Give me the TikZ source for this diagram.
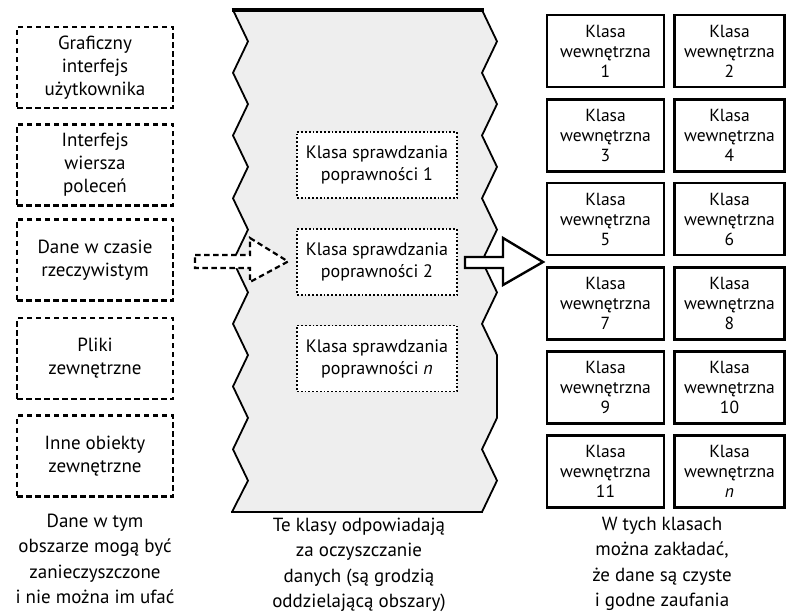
\documentclass[tikz,border=0pt]{standalone}
\usepackage{fontspec}
\setmainfont{PT Sans}
\definecolor{szary}{HTML}{EEEEEE}
% zigzag edges of the middle band
\def\lewa{(233,10) -- (248,41.4) -- (233,72.8) -- (248,104.1) -- (233,135.5) -- (248,166.9) -- (233,198.3) -- (248,229.6) -- (233,261) -- (248,292.4) -- (233,323.8) -- (248,355.1) -- (233,386.5) -- (248,417.9) -- (233,449.3) -- (248,480.6) -- (232,512)}
\def\prawa{(482,512) -- (497,480.6) -- (482,449.3) -- (497,417.9) -- (497,386.5) -- (497,355.1) -- (482,323.8) -- (497,292.4) -- (482,261) -- (497,229.6) -- (482,198.3) -- (497,166.9) -- (482,135.5) -- (497,104.1) -- (482,72.8) -- (497,41.4) -- (482,10)}

\begin{document}
\begin{tikzpicture}[x=1pt,y=-1pt,
	zewn/.style={draw,line width=2.2pt,dash pattern=on 5.5pt off 3.5pt,minimum width=156,minimum height=81,inner sep=2pt,align=center,font=\fontsize{19}{23}\selectfont},
	spraw/.style={draw,fill=white,line width=1.8pt,dash pattern=on 1.8pt off 2pt,minimum width=160,minimum height=66,inner sep=2pt,align=center,font=\fontsize{18}{22}\selectfont},
	wewn/.style={draw,line width=2.4pt,minimum height=72,inner sep=1pt,align=center,font=\fontsize{17.5}{20}\selectfont},
	opis/.style={align=center,inner sep=0pt,font=\fontsize{19}{25.5}\selectfont}]
	\useasboundingbox (0,0) rectangle (786,612);
	
	% middle band
	\fill[szary] \lewa -- \prawa -- cycle;
	\draw[line width=1.8pt,line join=miter] \lewa;
	\draw[line width=1.8pt,line join=miter] \prawa;
	\draw[line width=3.2pt] (231.5,10) -- (483.5,10);
	\draw[line width=2.2pt] (231,512) -- (483,512);
	
	% untrusted sources
	\node[zewn] (graf) at (95,67.5) {Graficzny\\interfejs\\użytkownika};
	\node[zewn] (wiersz) at (95,165) {Interfejs\\wiersza\\poleceń};
	\node[zewn] (dane) at (95,260) {Dane w czasie\\rzeczywistym};
	\node[zewn] (pliki) at (95,358.5) {Pliki\\zewnętrzne};
	\node[zewn] (inne) at (95,456) {Inne obiekty\\zewnętrzne};
	
	% dashed arrow into the band
	\draw[fill=white,line width=2.2pt,dash pattern=on 5.5pt off 3.5pt] (195,255) -- (250,255) -- (250,238) -- (288,261.5) -- (250,282) -- (250,268) -- (195,268) -- cycle;
	
	% validation classes
	\node[spraw] (spr1) at (377,165) {Klasa sprawdzania\\poprawności 1};
	\node[spraw] (spr2) at (377,262) {Klasa sprawdzania\\poprawności 2};
	\node[spraw] (sprn) at (377,358.5) {Klasa sprawdzania\\poprawności \textit{n}};
	
	% solid arrow out of the band
	\draw[fill=white,line width=2.4pt] (465,257) -- (503,257) -- (503,238) -- (543,262) -- (503,285) -- (503,268) -- (465,268) -- cycle;
	
	% internal classes
	\node[wewn,minimum width=117] (wew1) at (605.5,51) {Klasa\\wewnętrzna\\1};
	\node[wewn,minimum width=110] (wew2) at (729.5,51) {Klasa\\wewnętrzna\\2};
	\node[wewn,minimum width=117] (wew3) at (605.5,135.5) {Klasa\\wewnętrzna\\3};
	\node[wewn,minimum width=110] (wew4) at (729.5,135.5) {Klasa\\wewnętrzna\\4};
	\node[wewn,minimum width=117] (wew5) at (605.5,219) {Klasa\\wewnętrzna\\5};
	\node[wewn,minimum width=110] (wew6) at (729.5,219) {Klasa\\wewnętrzna\\6};
	\node[wewn,minimum width=117] (wew7) at (605.5,303.5) {Klasa\\wewnętrzna\\7};
	\node[wewn,minimum width=110] (wew8) at (729.5,303.5) {Klasa\\wewnętrzna\\8};
	\node[wewn,minimum width=117] (wew9) at (605.5,387.5) {Klasa\\wewnętrzna\\9};
	\node[wewn,minimum width=110] (wew10) at (729.5,387.5) {Klasa\\wewnętrzna\\10};
	\node[wewn,minimum width=117] (wew11) at (605.5,471.5) {Klasa\\wewnętrzna\\11};
	\node[wewn,minimum width=110] (wewn) at (729.5,471.5) {Klasa\\wewnętrzna\\\textit{n}};
	
	% captions
	\node[opis] (opisL) at (95,559) {Dane w tym\\obszarze mogą być\\zanieczyszczone\\i nie można im ufać};
	\node[opis] (opisS) at (359,565) {Te klasy odpowiadają\\za oczyszczanie\\danych (są grodzią\\oddzielającą obszary)};
	\node[opis] (opisP) at (662,564) {W tych klasach\\można zakładać,\\że dane są czyste\\i godne zaufania};
\end{tikzpicture}
\end{document}
